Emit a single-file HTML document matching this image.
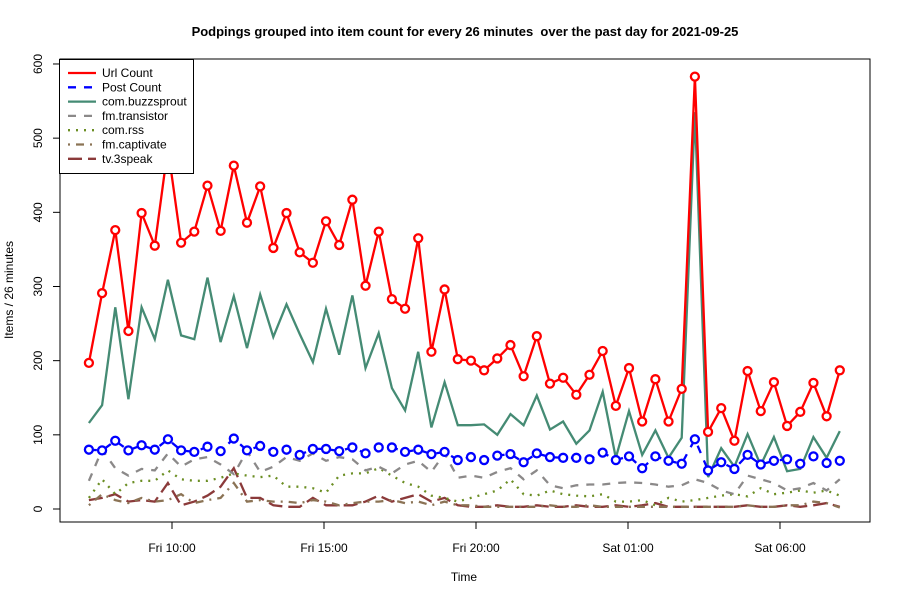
<!DOCTYPE html>
<html><head><meta charset="utf-8"><style>
body{margin:0;background:#fff;}
svg{display:block;font-family:"Liberation Sans",sans-serif;}
</style></head><body>
<svg id="chart" width="900" height="600" viewBox="0 0 900 600">
<rect width="900" height="600" fill="#fff"/>
<text x="465" y="36" text-anchor="middle" font-size="13" font-weight="bold" style="white-space:pre" xml:space="preserve">Podpings grouped into item count for every 26 minutes  over the past day for 2021-09-25</text>
<rect x="60" y="59" width="810" height="463" fill="none" stroke="#000"/>
<text x="464" y="581" text-anchor="middle" font-size="12">Time</text>
<text transform="translate(13,290) rotate(-90)" text-anchor="middle" font-size="12">Items / 26 minutes</text>
<g id="axes"></g>
<g id="series"></g>
<g id="legend"></g>
</svg>
<script>
const xTickLabels=["Fri 10:00","Fri 15:00","Fri 20:00","Sat 01:00","Sat 06:00"];
const xTickMinutes=[0,300,600,900,1200];
const yTicks=[0,100,200,300,400,500,600];
const startMinute=-164, stepMinutes=26;
const urlCount=[197,291,376,240,399,355,487,359,374,436,375,463,386,435,352,399,346,332,388,356,417,301,374,283,270,365,212,296,202,200,187,203,221,179,233,169,177,154,181,213,139,190,118,175,118,162,583,104,136,92,186,132,171,112,131,170,125,187];
const postCount=[80,79,92,79,86,80,94,79,77,84,78,95,79,85,77,80,73,81,81,78,83,75,83,83,77,80,74,77,66,70,66,72,74,63,75,70,69,69,67,76,66,71,55,71,65,61,94,52,63,54,73,60,65,67,61,71,62,65];
const buzzsprout=[116,140,272,148,272,229,309,234,229,312,225,287,217,289,232,276,236,198,270,208,288,190,237,163,133,212,110,171,113,113,114,100,128,113,153,107,118,88,106,158,69,132,73,106,69,96,535,43,82,57,101,59,97,51,54,97,69,105];
const transistor=[38,80,55,45,54,52,75,57,67,70,60,47,78,50,57,70,65,75,65,70,67,52,57,48,60,65,50,75,42,45,42,50,55,40,52,32,28,32,33,33,35,36,35,33,30,32,40,35,25,20,45,40,35,25,28,35,25,40];
const comRss=[15,40,20,35,38,38,52,40,38,38,42,48,45,43,45,30,30,28,22,45,48,48,55,45,35,30,18,15,10,15,20,25,40,20,18,25,20,18,17,20,10,10,12,5,15,10,12,15,18,20,17,28,20,22,25,22,25,18];
const captivate=[5,20,12,8,15,10,12,20,8,12,15,35,10,12,10,10,8,12,10,5,8,10,10,12,8,10,5,10,5,5,3,3,3,3,3,5,3,3,5,3,3,3,3,3,3,3,3,3,3,3,5,3,3,5,5,10,8,2];
const threeSpeak=[12,15,20,10,12,10,35,5,10,18,30,55,15,15,5,3,3,15,5,5,5,10,18,10,15,20,10,15,5,3,3,5,3,3,5,3,3,5,3,3,5,3,5,8,3,3,3,3,3,3,5,3,3,5,3,5,8,3];

const NS="http://www.w3.org/2000/svg";
const xScale=m=>172+(m)*152/300;
const yScale=v=>509-v*0.7417;
const xi=i=>xScale(startMinute+i*stepMinutes);
function mk(tag,attrs,parent){const e=document.createElementNS(NS,tag);for(const k in attrs)e.setAttribute(k,attrs[k]);parent.appendChild(e);return e;}
const axes=document.getElementById('axes');
xTickMinutes.forEach((m,k)=>{
  const x=xScale(m);
  const t=mk('line',{x1:x,x2:x,y1:522,y2:529,stroke:'#000'},axes);
  
  
  const l=mk('text',{x:x,y:552,'text-anchor':'middle','font-size':12},axes);
  l.textContent=xTickLabels[k];
  
  
});
yTicks.forEach(v=>{
  const y=yScale(v);
  const t=mk('line',{x1:53,x2:60,y1:y,y2:y,stroke:'#000'},axes);
  
  
  const l=mk('text',{transform:`translate(42,${y}) rotate(-90)`,'text-anchor':'middle','font-size':12},axes);
  l.textContent=v;
  
  
});
const seriesDefs=[
 {name:'tv.3speak',data:threeSpeak,color:'#8B3A3A',dash:'14 6'},
 {name:'fm.captivate',data:captivate,color:'#8B7355',dash:'2 6 8 6'},
 {name:'com.rss',data:comRss,color:'#6B8E23',dash:'2 6'},
 {name:'fm.transistor',data:transistor,color:'#8B8989',dash:'8 8'},
 {name:'com.buzzsprout',data:buzzsprout,color:'#458B74',dash:''},
 {name:'Post Count',data:postCount,color:'#0000FF',dash:'8 8',pts:true},
 {name:'Url Count',data:urlCount,color:'#FF0000',dash:'',pts:true}
];
const sg=document.getElementById('series');
seriesDefs.forEach(s=>{
  const g=mk('g',{},sg);
  
  
  const d=s.data.map((v,i)=>(i?'L':'M')+xi(i).toFixed(1)+','+yScale(v).toFixed(1)).join('');
  const p=mk('path',{d:d,fill:'none',stroke:s.color,'stroke-width':2.3,'stroke-dasharray':s.dash},g);
  
  
  if(s.pts){s.data.forEach((v,i)=>{
    const c=mk('circle',{cx:xi(i),cy:yScale(v),r:4,fill:'#fff',stroke:s.color,'stroke-width':2.3},g);
    
    
  });}
});
const lg=document.getElementById('legend');


mk('rect',{x:59.5,y:59.5,width:134,height:114,fill:'#fff',stroke:'#000'},lg);
[...seriesDefs].reverse().forEach((s,k)=>{
  const y=73+k*14.3;
  const ln=mk('line',{x1:68,x2:96,y1:y,y2:y,stroke:s.color,'stroke-width':2.3,'stroke-dasharray':s.dash},lg);
  
  
  const t=mk('text',{x:102,y:y+4,'font-size':12},lg);
  t.textContent=s.name;
  
  
});
</script>
</body></html>
